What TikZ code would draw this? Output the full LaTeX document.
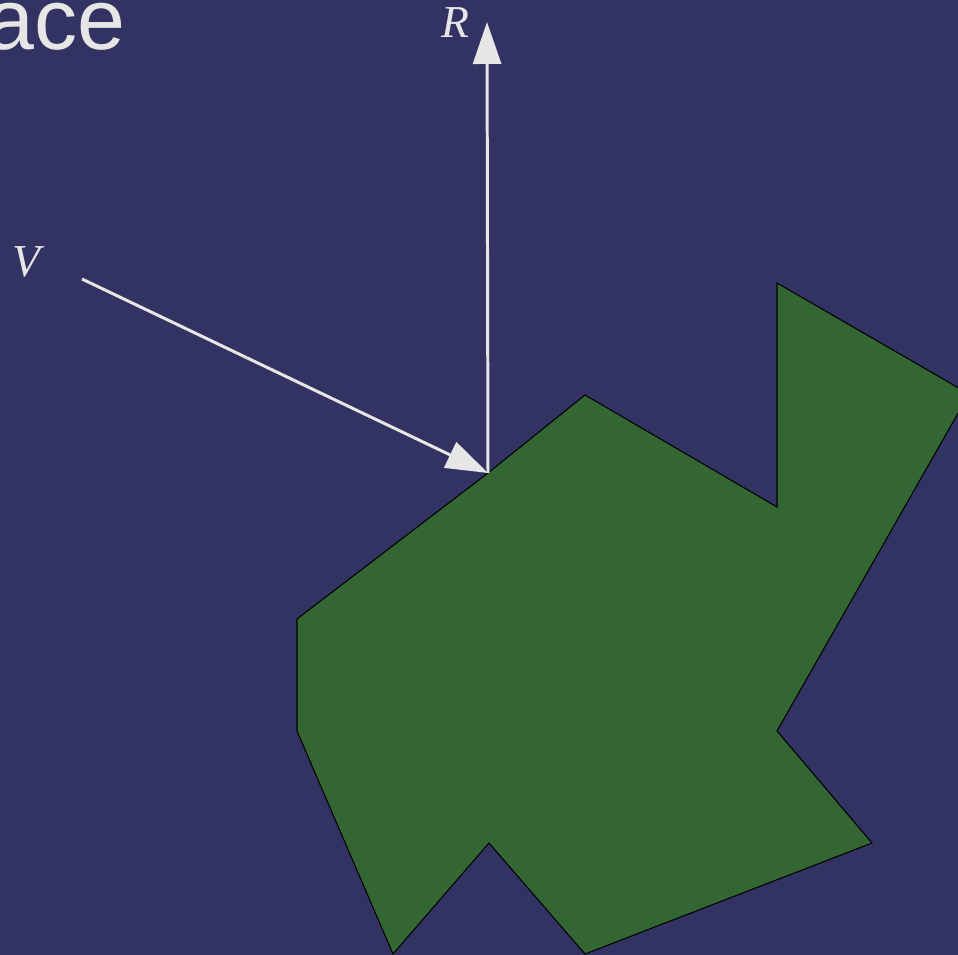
\documentclass[tikz,border=0pt]{standalone}
\usepackage{fontspec}
\setmainfont{Liberation Serif}
\newfontfamily\slidefont{Liberation Sans}
\usetikzlibrary{arrows.meta}
\definecolor{bgblue}{RGB}{51,51,99}
\definecolor{mgreen}{RGB}{52,102,52}
\definecolor{mwhite}{RGB}{230,230,230}

\begin{document}
\begin{tikzpicture}[x=0.02cm,y=-0.02cm,
  lbl/.style={text=mwhite,font=\fontsize{26}{30}\selectfont\itshape,inner sep=0pt},
  vec/.style={-{Triangle[length=0.84cm,width=0.56cm]},mwhite,line width=1.7pt},
  surf/.style={draw=black,fill=mgreen,line width=0.6pt,line join=miter}
]
\fill[bgblue] (0,0) rectangle (958,955);
\useasboundingbox (0,0) rectangle (958,955);

\node[text=mwhite,font=\slidefont\fontsize{49}{56}\selectfont,anchor=base east,inner sep=0pt]
  (title) at (126,50) {ace};

% the surface
\draw[surf] (488,473) -- (585,395) -- (777,507) -- (777,283) -- (969,394)
  -- (777,731) -- (872,843) -- (585,954) -- (489,843) -- (393,954)
  -- (297,731) -- (297,619) -- cycle;

\coordinate (hit)  at (488,473);
\coordinate (vin)  at (82,279);
\coordinate (rout) at (487,22);

\node[lbl] (R) at (455,23)  {R};
\node[lbl] (V) at (26,262)  {V};

\draw[vec] (vin)--(hit);
\draw[vec] (hit)--(rout);
\end{tikzpicture}
\end{document}
